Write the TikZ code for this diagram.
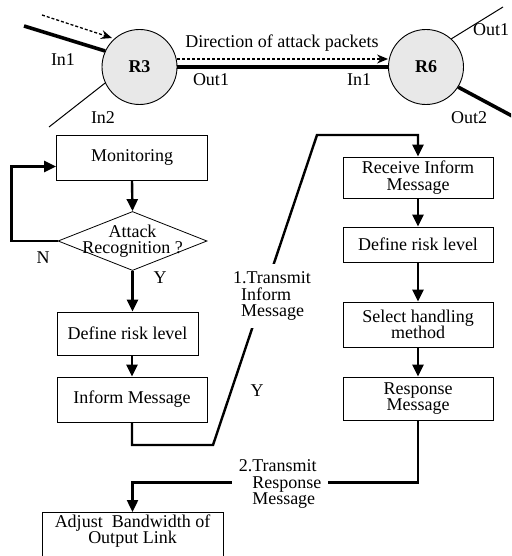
\documentclass[tikz,border=0pt]{standalone}
\usepackage{fontspec}
\setmainfont{Liberation Serif}
\usetikzlibrary{shapes.geometric,arrows.meta,positioning,calc}
\newcommand{\boxfont}{\fontsize{18}{16.5}\selectfont}

\begin{document}
\begin{tikzpicture}[x=1pt,y=-1pt,
    box/.style={draw,line width=0.8pt,minimum width=150pt,inner sep=2pt,align=center,font=\boxfont},
    flow/.style={line width=2.4pt},
    tip/.style={-{Triangle[length=12pt,width=11pt]}},
    router/.style={circle,draw,line width=0.9pt,fill=gray!18,minimum size=75pt,inner sep=0pt,font=\boxfont\bfseries},
    link/.style={line width=3.6pt},
    port/.style={line width=1pt},
    attack/.style={line width=1.3pt,dash pattern=on 3pt off 2pt,-{Stealth[length=11pt,width=9pt]}},
    lab/.style={font=\boxfont,inner sep=1pt}]
    \useasboundingbox (0,0) rectangle (511,556);
    \clip (0,0) rectangle (511,556);
    %% routers and links
    \node[router] (r3) at (139.5,67) {R3};
    \node[router] (r6) at (426,67) {R6};
    \coordinate (in1) at (24,26);
    \coordinate (in2) at (49,127);
    \coordinate (atk) at (42,15);
    \coordinate (atktip) at (112,38);
    \coordinate (out1) at (503,7);
    \coordinate (out2) at (514,117);
    \draw[link] (in1) -- (r3.155);
    \draw[port] (in2) -- (r3.205);
    \draw[attack] (atk) -- (atktip);
    \draw[link] (r3.east) -- (r6.west);
    \draw[attack] ([yshift=8pt]r3.east) -- ([yshift=8pt]r6.west);
    \draw[port] (r6.48) -- (out1);
    \draw[link] (r6.-32) -- (out2);
    \node[lab] (lin1) at (63,60) {In1};
    \node[lab] (lin2) at (103,118) {In2};
    \node[lab] (lout1) at (211,80) {Out1};
    \node[lab] (lin1b) at (359,80) {In1};
    \node[lab] (lout1b) at (491,30) {Out1};
    \node[lab] (lout2) at (469,118) {Out2};
    \node[lab] (dir) at (282,43) {Direction of attack packets};
    %% left flow
    \node[box,minimum width=151pt,minimum height=45pt] (mon) at (132,157.5) {Monitoring};
    \node[diamond,draw,line width=0.8pt,minimum width=149pt,minimum height=59pt,inner sep=0pt] (dec) at (132.5,241) {};
    \node[lab,align=center] (dectxt) at (dec) {Attack\\Recognition ?};
    \node[box,minimum width=141pt,minimum height=43pt] (riskA) at (127.5,333.5) {Define risk level};
    \node[box,minimum height=45pt] (inf) at (132,399.5) {Inform Message};
    \node[box,minimum width=181pt,anchor=north,text depth=30pt] (adj) at (132.5,512) {Adjust\ \ Bandwidth of\\Output Link};
    %% right flow
    \node[box,minimum height=41pt] (rcv) at (418,177.5) {Receive Inform\\Message};
    \node[box,minimum height=35pt] (riskB) at (418,244.5) {Define risk level};
    \node[box,minimum height=45pt] (sel) at (418,324.5) {Select handling\\method};
    \node[box,minimum height=43pt] (rsp) at (418,398.5) {Response\\Message};
    %%
    \draw[flow,tip] (mon.south) -- (dec.north);
    \draw[flow,tip] (dec.west) -- ++(-46,0) |- ([yshift=-9pt]mon.west);
    \draw[flow,tip] (dec.south) -- (dec.south |- riskA.north);
    \draw[flow,tip] (inf.north |- riskA.south) -- (inf.north);
    \draw[flow,tip] (rcv) -- (riskB);
    \draw[flow,tip] (riskB) -- (sel);
    \draw[flow,tip] (sel) -- (rsp);
    \coordinate (ia) at (213,445);
    \coordinate (ib) at (317,135);
    \draw[flow,tip] (inf.south) |- (ia) -- (ib) -| (rcv.north);
    \draw[flow,tip] (rsp.south) -- ++(0,62) -| (adj.north);
    \node[lab,fill=white,align=left,inner xsep=4pt,inner ysep=8pt] (tx1) at (272,296) {1.Transmit\\\hspace*{8pt}Inform\\\hspace*{8pt}Message};
    \node[lab,fill=white,align=left,inner xsep=7pt] (tx2) at (280,484) {2.Transmit\\\phantom{2.}Response\\\phantom{2.}Message};
    \node[lab] (yes1) at (160,278) {Y};
    \node[lab] (yes2) at (257,391) {Y};
    \node[lab] (no) at (43,258) {N};
\end{tikzpicture}
\end{document}
